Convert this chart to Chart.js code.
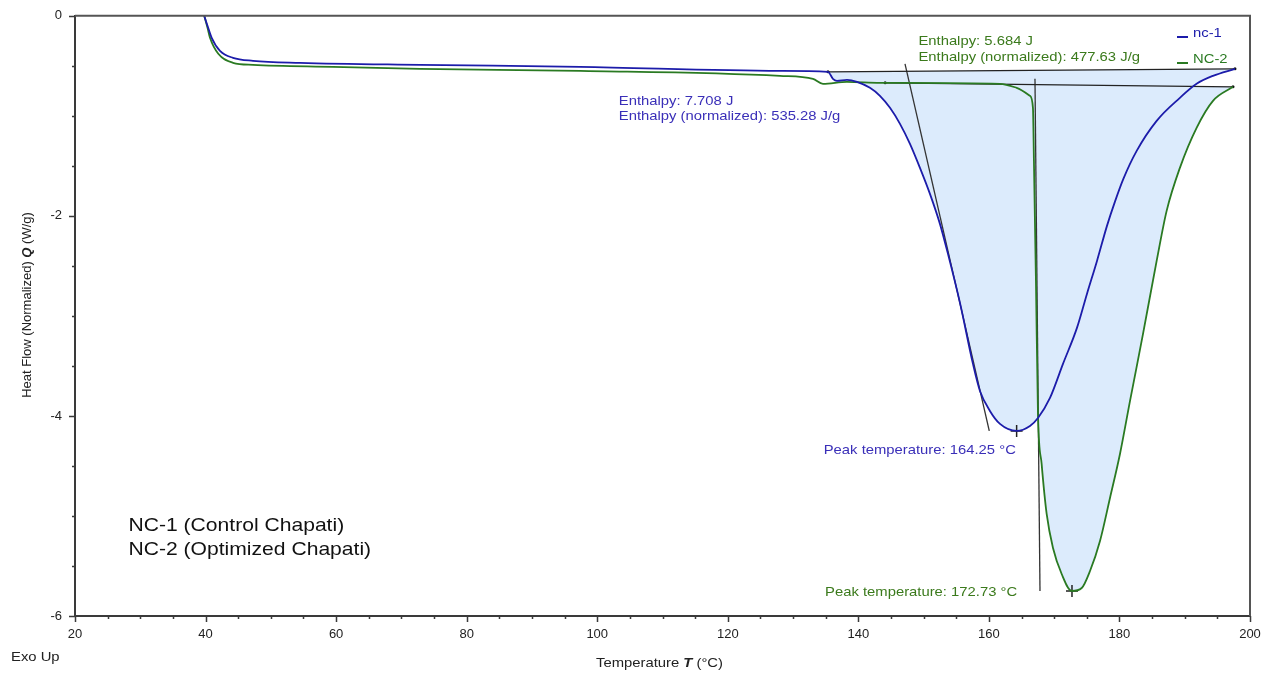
<!DOCTYPE html>
<html>
<head>
<meta charset="utf-8">
<script src="https://cdn.jsdelivr.net/npm/chart.js@4.4.1/dist/chart.umd.min.js"></script>
<style>
  html, body { margin: 0; padding: 0; background: #fff; }
  #wrap { width: 1273px; height: 676px; position: relative; }
</style>
</head>
<body>
<div id="wrap"><canvas id="dscChart"></canvas></div>
<script>
// NC-1 (control chapati) heat flow curve
const nc1Temp = [39.8, 40.3, 40.94, 42.21, 44.2, 47.27, 54.47, 72.85, 97.36, 128.0, 135.35, 136.11, 136.73, 138.26, 139.79,
  141.78, 143.31, 144.85, 146.38, 147.91, 149.44, 150.97, 152.5, 153.73, 155.57, 157.56, 158.63, 160.16, 161.7, 164.26,
  166.29, 167.52, 169.36, 171.35, 173.49, 175.02, 176.56, 178.09, 179.3, 180.6, 182.64, 185.7, 189.26, 191.82, 194.33, 197.7];
const nc1Flow = [0, -0.1, -0.22, -0.35, -0.42, -0.45, -0.47, -0.49, -0.51, -0.55, -0.56, -0.63, -0.65, -0.64, -0.66,
  -0.72, -0.8, -0.92, -1.08, -1.28, -1.52, -1.78, -2.08, -2.38, -2.87, -3.48, -3.75, -3.95, -4.08, -4.15,
  -4.1, -4.02, -3.82, -3.48, -3.12, -2.78, -2.45, -2.1, -1.86, -1.63, -1.35, -1.05, -0.82, -0.68, -0.6, -0.53];

// NC-2 (optimized chapati) heat flow curve
const nc2Temp = [39.8, 40.3, 40.68, 41.95, 44.2, 47.27, 59.52, 72.85, 97.36, 128.0, 133.05, 134.58, 138.26, 143.31,
  161.7, 164.26, 166.29, 166.75, 166.9, 167.21, 167.52, 168.08, 168.85, 169.82, 171.15, 172.68, 174.22, 175.49, 177.02,
  178.55, 180.08, 181.62, 183.61, 185.7, 187.23, 189.26, 191.82, 194.33, 197.4];
const nc2Flow = [0, -0.12, -0.22, -0.38, -0.47, -0.49, -0.51, -0.53, -0.55, -0.6, -0.63, -0.68, -0.66, -0.67,
  -0.68, -0.72, -0.8, -0.92, -1.45, -2.65, -3.98, -4.48, -4.98, -5.32, -5.58, -5.75, -5.72, -5.55, -5.25,
  -4.82, -4.38, -3.85, -3.18, -2.45, -1.95, -1.52, -1.12, -0.85, -0.71];

// integration baselines
const nc1BaseTemp = [135.35, 197.7];
const nc1BaseFlow = [-0.56, -0.53];
const nc2BaseTemp = [144.1, 197.4];
const nc2BaseFlow = [-0.67, -0.71];

// onset tangents
const nc1TangentTemp = [147.15, 160.06];
const nc1TangentFlow = [-0.48, -4.15];
const nc2TangentTemp = [167.06, 167.83];
const nc2TangentFlow = [-0.63, -5.75];

// peaks
const peakTemp = [164.25, 172.73];
const peakFlow = [-4.15, -5.75];

const seriesNames = ['nc-1', 'NC-2'];
const enthalpyJ = ['7.708', '5.684'];
const enthalpyNorm = ['535.28', '477.63'];
const sampleNotes = ['NC-1 (Control Chapati)', 'NC-2 (Optimized Chapati)'];

const BLUE = '#1c1caa';
const GREEN = '#2a7a22';
const BLUE_TEXT = '#3a2fb8';
const GREEN_TEXT = '#3b7a1c';
const FILL = 'rgb(220,235,252)';
const AXIS = '#3a3a3a';
const FONT = "'Liberation Sans', Arial, sans-serif";
const STRETCH = 1.14; // the original text is a little wider than plain Arial

function toPoints(xs, ys) {
  return xs.map((x, i) => ({ x: x, y: ys[i] }));
}

// text drawn with a horizontal stretch, left aligned, middle baseline
function wideText(ctx, text, x, y, font, sx) {
  ctx.save();
  ctx.font = font;
  ctx.textAlign = 'left';
  ctx.textBaseline = 'middle';
  ctx.translate(x, y);
  ctx.scale(sx, 1);
  ctx.fillText(text, 0, 0);
  ctx.restore();
}

function drawRich(ctx, parts, x, y, align, sx) {
  let total = 0;
  parts.forEach(p => { ctx.font = p[1]; total += ctx.measureText(p[0]).width; });
  ctx.save();
  ctx.translate(x, y);
  ctx.scale(sx, 1);
  let cx = align === 'center' ? -total / 2 : 0;
  ctx.textAlign = 'left';
  ctx.textBaseline = 'middle';
  parts.forEach(p => {
    ctx.font = p[1];
    ctx.fillText(p[0], cx, 0);
    cx += ctx.measureText(p[0]).width;
  });
  ctx.restore();
}

const decorPlugin = {
  id: 'decor',
  afterDraw(chart) {
    const ctx = chart.ctx;
    const a = chart.chartArea;
    const xs = chart.scales.x;
    const ys = chart.scales.y;
    ctx.save();

    // top and right frame
    ctx.strokeStyle = '#555';
    ctx.lineWidth = 2;
    ctx.beginPath();
    ctx.moveTo(a.left, a.top);
    ctx.lineTo(a.right, a.top);
    ctx.lineTo(a.right, a.bottom);
    ctx.stroke();

    // tick marks: long for labelled ticks, short for the others
    ctx.strokeStyle = AXIS;
    ctx.lineWidth = 1.5;
    ctx.beginPath();
    xs.ticks.forEach(t => {
      const p = Math.round(xs.getPixelForValue(t.value)) + 0.5;
      const len = t.value % 20 === 0 ? 6 : 3;
      ctx.moveTo(p, a.bottom);
      ctx.lineTo(p, a.bottom + len);
    });
    ys.ticks.forEach(t => {
      const p = Math.round(ys.getPixelForValue(t.value)) + 0.5;
      const len = t.value % 2 === 0 ? 6 : 3;
      ctx.moveTo(a.left, p);
      ctx.lineTo(a.left - len, p);
    });
    ctx.stroke();

    // legend
    const legendColors = [BLUE, GREEN];
    seriesNames.forEach((name, i) => {
      const ly = 33 + i * 26;
      ctx.strokeStyle = legendColors[i];
      ctx.lineWidth = 2;
      ctx.beginPath();
      ctx.moveTo(1177, ly + 4);
      ctx.lineTo(1188, ly + 4);
      ctx.stroke();
      ctx.fillStyle = legendColors[i];
      wideText(ctx, name, 1193, ly, '13px ' + FONT, STRETCH);
    });

    // annotations
    const small = '13px ' + FONT;
    ctx.fillStyle = BLUE_TEXT;
    let px = xs.getPixelForValue(103.3);
    let py = ys.getPixelForValue(-0.86);
    wideText(ctx, 'Enthalpy: ' + enthalpyJ[0] + ' J', px, py, small, STRETCH);
    wideText(ctx, 'Enthalpy (normalized): ' + enthalpyNorm[0] + ' J/g', px, py + 15, small, STRETCH);
    wideText(ctx, 'Peak temperature: ' + peakTemp[0].toFixed(2) + ' °C',
      xs.getPixelForValue(134.7), ys.getPixelForValue(-4.34), small, STRETCH);

    ctx.fillStyle = GREEN_TEXT;
    px = xs.getPixelForValue(149.2);
    py = ys.getPixelForValue(-0.26);
    wideText(ctx, 'Enthalpy: ' + enthalpyJ[1] + ' J', px, py, small, STRETCH);
    wideText(ctx, 'Enthalpy (normalized): ' + enthalpyNorm[1] + ' J/g', px, py + 16, small, STRETCH);
    wideText(ctx, 'Peak temperature: ' + peakTemp[1].toFixed(2) + ' °C',
      xs.getPixelForValue(134.9), ys.getPixelForValue(-5.76), small, STRETCH);

    // sample notes
    ctx.fillStyle = '#111';
    sampleNotes.forEach((t, i) => {
      wideText(ctx, t, xs.getPixelForValue(28.2), ys.getPixelForValue(-5.1) + i * 24, '18.5px ' + FONT, STRETCH);
    });

    // axis titles
    ctx.fillStyle = '#222';
    drawRich(ctx, [['Temperature ', '13px ' + FONT], ['T', 'italic bold 13px ' + FONT], [' (°C)', '13px ' + FONT]],
      (a.left + a.right) / 2 - 3, 663, 'center', STRETCH);
    wideText(ctx, 'Exo Up', 11, 657, '13px ' + FONT, STRETCH);

    ctx.save();
    ctx.translate(27, 305);
    ctx.rotate(-Math.PI / 2);
    drawRich(ctx, [['Heat Flow (Normalized) ', '13px ' + FONT], ['Q', 'italic bold 13px ' + FONT], [' (W/g)', '13px ' + FONT]],
      0, 0, 'center', 1);
    ctx.restore();

    ctx.restore();
  }
};

const ctx = document.getElementById('dscChart').getContext('2d');

const chart = new Chart(ctx, {
  type: 'line',
  data: {
    datasets: [
      {
        label: seriesNames[0],
        data: toPoints(nc1Temp, nc1Flow),
        borderColor: BLUE,
        borderWidth: 1.8,
        pointRadius: 0,
        cubicInterpolationMode: 'monotone',
        backgroundColor: FILL,
        fill: { target: 2, above: FILL, below: FILL }
      },
      {
        label: seriesNames[1],
        data: toPoints(nc2Temp, nc2Flow),
        borderColor: GREEN,
        borderWidth: 1.8,
        pointRadius: 0,
        cubicInterpolationMode: 'monotone',
        backgroundColor: FILL,
        fill: { target: 3, above: FILL, below: FILL }
      },
      {
        label: 'nc-1 baseline',
        data: toPoints(nc1BaseTemp, nc1BaseFlow),
        borderColor: '#222',
        borderWidth: 1.3,
        pointRadius: 1.5,
        pointBackgroundColor: '#111',
        pointBorderWidth: 0,
        fill: false
      },
      {
        label: 'NC-2 baseline',
        data: toPoints(nc2BaseTemp, nc2BaseFlow),
        borderColor: '#222',
        borderWidth: 1.3,
        pointRadius: 1.5,
        pointBackgroundColor: '#111',
        pointBorderWidth: 0,
        fill: false
      },
      {
        label: 'nc-1 onset',
        data: toPoints(nc1TangentTemp, nc1TangentFlow),
        borderColor: '#333',
        borderWidth: 1.3,
        pointRadius: 0,
        fill: false
      },
      {
        label: 'NC-2 onset',
        data: toPoints(nc2TangentTemp, nc2TangentFlow),
        borderColor: '#333',
        borderWidth: 1.3,
        pointRadius: 0,
        fill: false
      },
      {
        label: 'peaks',
        data: toPoints(peakTemp, peakFlow),
        showLine: false,
        pointStyle: 'cross',
        pointRadius: 6,
        pointBorderColor: '#222',
        pointBorderWidth: 1.5,
        fill: false
      }
    ]
  },
  options: {
    responsive: true,
    maintainAspectRatio: false,
    animation: false,
    layout: { padding: { top: 15, right: 23, left: 0, bottom: 0 } },
    scales: {
      x: {
        type: 'linear',
        min: 20,
        max: 200,
        afterFit: s => { s.height = 60; },
        border: { display: true, color: AXIS, width: 2 },
        grid: { drawOnChartArea: false, drawTicks: true, tickLength: 5, tickColor: 'rgba(0,0,0,0)' },
        ticks: {
          stepSize: 5,
          autoSkip: false,
          maxRotation: 0,
          padding: 6,
          color: '#222',
          font: { family: FONT, size: 13 },
          callback: v => (v % 20 === 0 ? v : '')
        }
      },
      y: {
        min: -6,
        max: 0,
        afterFit: s => { s.width = 75; },
        border: { display: true, color: AXIS, width: 2 },
        grid: { drawOnChartArea: false, drawTicks: true, tickLength: 5, tickColor: 'rgba(0,0,0,0)' },
        ticks: {
          stepSize: 0.5,
          autoSkip: false,
          padding: 8,
          color: '#222',
          font: { family: FONT, size: 13 },
          callback: v => (v % 2 === 0 ? v : '')
        }
      }
    },
    plugins: {
      legend: { display: false },
      tooltip: { enabled: false },
      filler: { drawTime: 'beforeDatasetsDraw' }
    }
  },
  plugins: [decorPlugin]
});
</script>
</body>
</html>
